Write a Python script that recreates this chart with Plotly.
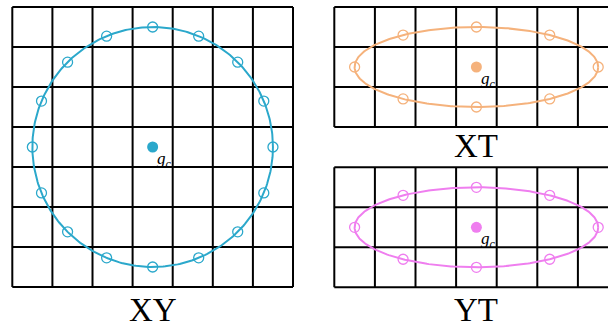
import numpy as np
import plotly.graph_objects as go

# ---- data -------------------------------------------------------------
PANELS = ["XY", "XT", "YT"]
GRID_COLS = [7, 7, 7]          # cells across each patch grid
GRID_ROWS = [7, 3, 3]          # cells down each patch grid
CENTERS_X = [3.5, 3.5, 3.5]    # g_c position (cell units)
CENTERS_Y = [3.5, 1.5, 1.5]
RADII_X = [3.0, 3.0, 3.0]      # sampling ring semi-axes (cell units)
RADII_Y = [3.0, 1.0, 1.0]
# angular positions of the sampled offsets on each ring (degrees)
XY_ANGLES = [0, 22.5, 45, 67.5, 90, 112.5, 135, 157.5,
             180, 202.5, 225, 247.5, 270, 292.5, 315, 337.5]
XT_ANGLES = [0, 53, 90, 127, 180, 233, 270, 307]
YT_ANGLES = [0, 53, 90, 127, 180, 233, 270, 307]
ANGLES = [XY_ANGLES, XT_ANGLES, YT_ANGLES]
COLORS = ["#2BA8CB", "#F5B27C", "#EF7EEF"]

# ---- layout geometry (pixels) -----------------------------------------
W, H = 608, 327
# left px, top px, cell width px, cell height px
GEOM = [(12.3, 7.0, 40.1, 40.0),
        (334.3, 7.0, 40.6, 40.0),
        (334.3, 167.3, 40.6, 40.0)]
TITLE_SHIFT = [-3, 1, -3]
PAD = 0.06

fig = go.Figure()
layout = dict(width=W, height=H, margin=dict(l=0, r=0, t=0, b=0),
              paper_bgcolor="white", plot_bgcolor="white",
              showlegend=False, shapes=[], annotations=[])

for i, name in enumerate(PANELS):
    ax = "" if i == 0 else str(i + 1)
    xr, yr = "x" + ax, "y" + ax
    left, top, cw, ch = GEOM[i]
    ncol, nrow = GRID_COLS[i], GRID_ROWS[i]

    x_lo = -PAD
    x_hi = ncol + PAD
    px_lo = left + x_lo * cw
    px_hi = left + x_hi * cw
    if px_hi > W:
        px_hi = W
        x_hi = (W - left) / cw
    y_lo, y_hi = -PAD, nrow + PAD
    bottom = top + nrow * ch
    py_top = top - PAD * ch
    py_bot = bottom + PAD * ch

    axis_common = dict(showgrid=False, zeroline=False, showticklabels=False,
                       ticks="", showline=False, fixedrange=True)
    layout["xaxis" + ax] = dict(domain=[px_lo / W, px_hi / W],
                                range=[x_lo, x_hi], anchor=yr, **axis_common)
    layout["yaxis" + ax] = dict(domain=[1 - py_bot / H, 1 - py_top / H],
                                range=[y_lo, y_hi], anchor=xr, **axis_common)

    # patch grid
    for c in range(ncol + 1):
        layout["shapes"].append(dict(type="line", xref=xr, yref=yr,
                                     x0=c, x1=c, y0=0, y1=nrow, layer="below",
                                     line=dict(color="black", width=2)))
    for r in range(nrow + 1):
        layout["shapes"].append(dict(type="line", xref=xr, yref=yr,
                                     x0=0, x1=ncol, y0=r, y1=r, layer="below",
                                     line=dict(color="black", width=2)))

    cx, cy = CENTERS_X[i], CENTERS_Y[i]
    rx, ry = RADII_X[i], RADII_Y[i]
    col = COLORS[i]

    # sampling ring
    t = np.linspace(0, 2 * np.pi, 361)
    fig.add_trace(go.Scatter(x=cx + rx * np.cos(t), y=cy + ry * np.sin(t),
                             mode="lines", line=dict(color=col, width=2),
                             xaxis=xr, yaxis=yr, hoverinfo="skip"))
    # sampled offsets
    a = np.deg2rad(np.array(ANGLES[i], dtype=float))
    fig.add_trace(go.Scatter(x=cx + rx * np.cos(a), y=cy + ry * np.sin(a),
                             mode="markers",
                             marker=dict(symbol="circle-open", size=10,
                                         color=col, line=dict(width=1.3)),
                             xaxis=xr, yaxis=yr))
    # centre g_c
    fig.add_trace(go.Scatter(x=[cx], y=[cy], mode="markers",
                             marker=dict(size=11, color=col),
                             xaxis=xr, yaxis=yr))
    layout["annotations"].append(dict(
        xref=xr, yref=yr, x=cx + 0.07, y=cy,
        xanchor="left", yanchor="top", yshift=0, showarrow=False,
        text="<i>g</i><sub><i>c</i></sub>",
        font=dict(family="Liberation Serif", size=17, color="black")))
    # panel title
    layout["annotations"].append(dict(
        xref=xr, yref=yr, x=ncol / 2, y=0,
        xanchor="center", yanchor="top", yshift=TITLE_SHIFT[i],
        showarrow=False, text=name,
        font=dict(family="Liberation Serif", size=33, color="black")))

fig.update_layout(**layout)
fig.write_html("out.html")
